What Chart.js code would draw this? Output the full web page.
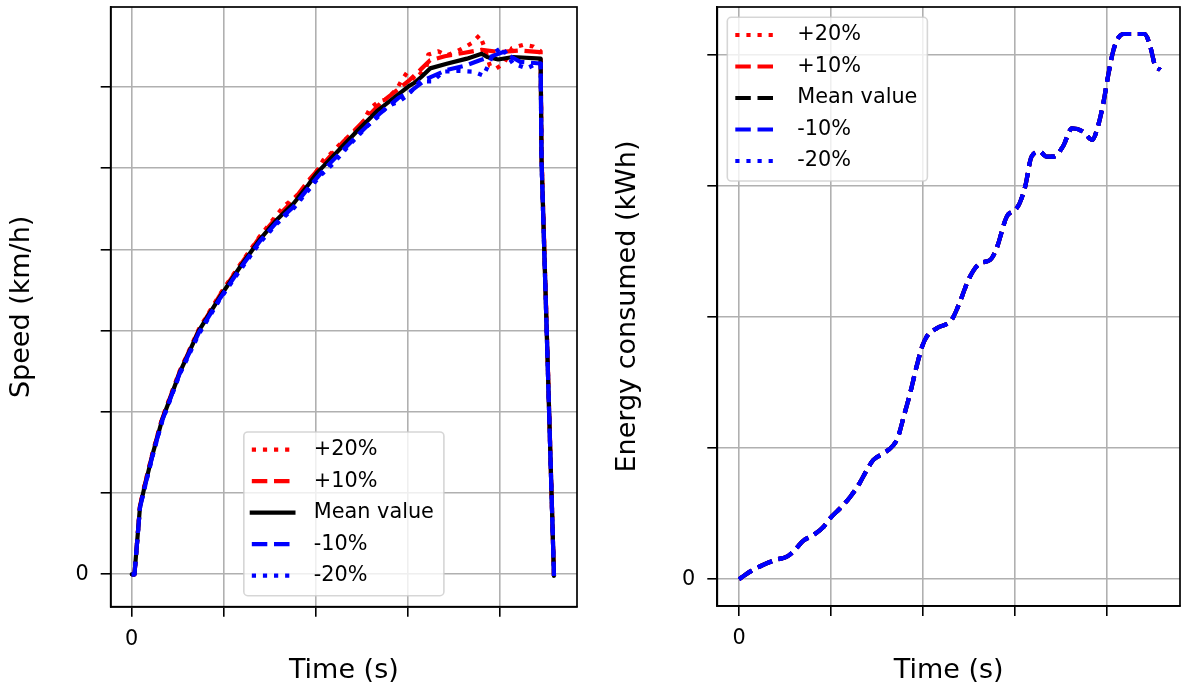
<!DOCTYPE html>
<html>
<head>
<meta charset="utf-8">
<script src="https://cdn.jsdelivr.net/npm/chart.js@4"></script>
<style>
  html, body { margin: 0; padding: 0; background: #fff; }
  #wrap { position: relative; width: 1183px; height: 689px; overflow: hidden; }
  .panel { position: absolute; top: 0; }
</style>
</head>
<body>
<div id="wrap">
  <div class="panel" style="left:0"><canvas id="speedChart" width="590" height="689"></canvas></div>
  <div class="panel" style="left:590px"><canvas id="energyChart" width="593" height="689"></canvas></div>
</div>
<script>
// ─────────────── DATA ───────────────
// time in s, speed in km/h, energy in kWh; only the 0 tick is labelled
const timeTicks = [0, 100, 200, 300, 400];
const speedTicks = [0, 10, 20, 30, 40, 50, 60];
const energyTicks = [0, 1, 2, 3, 4];
const seriesLabels = ['+20%', '+10%', 'Mean value', '-10%', '-20%'];

const tPlus20 = [0, 3, 9, 14, 23, 33, 52, 73, 96, 118, 139, 157, 166, 176, 188, 197, 208, 217, 228, 237, 248, 259, 268, 277, 288, 293, 299, 308, 316, 320, 322, 333, 342, 353, 360, 369, 378, 382, 389, 396, 404, 413, 425, 436, 444, 445, 451, 458.5];
const vPlus20 = [0, 0, 8.4, 11.0, 15.1, 19.2, 25.0, 30.2, 34.5, 38.2, 41.6, 44.2, 45.4, 46.3, 47.6, 48.9, 51.0, 51.9, 53.2, 54.0, 55.0, 57.4, 58.2, 58.5, 59.8, 60.8, 61.8, 60.9, 62.0, 62.4, 64.0, 64.4, 63.9, 64.4, 64.8, 65.4, 66.4, 65.2, 62.6, 62.3, 62.9, 64.8, 65.2, 65.0, 64.4, 51.8, 29.0, -0.2];

const tPlus10 = [0, 3, 9, 14, 23, 33, 52, 73, 96, 118, 139, 157, 176, 192, 210, 230, 250, 270, 290, 302, 315, 324, 340, 360, 380, 400, 420, 444, 445, 451, 458.5];
const vPlus10 = [0, 0, 8.4, 10.9, 15.0, 19.1, 24.9, 30.1, 34.4, 38.1, 41.5, 43.9, 46.1, 48.5, 50.8, 53.3, 55.6, 58.0, 59.8, 60.9, 62.3, 63.3, 63.8, 64.2, 64.6, 64.3, 64.5, 64.3, 51.5, 28.8, -0.2];

const tMean = [0, 3, 9, 14, 23, 33, 52, 73, 96, 118, 139, 157, 176, 192, 201, 223, 244, 266, 284, 302, 308, 315, 324, 343, 364, 380, 386, 398, 414, 444, 445, 451, 458.5];
const vMean = [0, 0, 8.3, 10.8, 14.9, 19.0, 24.8, 30.0, 34.2, 37.9, 41.2, 43.6, 45.7, 48.0, 49.4, 52.0, 54.5, 57.0, 58.6, 60.2, 60.6, 61.3, 62.3, 62.9, 63.5, 64.1, 63.7, 63.4, 63.7, 63.5, 51.0, 28.5, -0.2];

const tMinus10 = [0, 3, 9, 14, 23, 33, 52, 73, 96, 118, 139, 157, 176, 192, 210, 230, 250, 270, 290, 302, 320, 342, 364, 378, 389, 403, 422, 444, 445, 451, 458.5];
const vMinus10 = [0, 0, 8.2, 10.7, 14.8, 18.9, 24.7, 29.8, 34.0, 37.7, 41.0, 43.3, 45.3, 47.6, 50.0, 52.3, 54.6, 56.8, 58.7, 59.4, 61.0, 62.1, 62.7, 63.3, 63.7, 64.3, 63.1, 62.9, 51.0, 28.5, -0.2];

const tMinus20 = [0, 3, 9, 14, 23, 33, 52, 73, 96, 118, 139, 157, 176, 192, 204, 219, 235, 255, 270, 277, 290, 300, 313, 327, 338, 355, 371, 382, 393, 402, 414, 429, 440, 444, 445, 451, 458.5];
const vMinus20 = [0, 0, 8.2, 10.6, 14.7, 18.8, 24.6, 29.6, 33.9, 37.5, 40.8, 43.1, 45.1, 47.3, 49.0, 50.6, 52.7, 55.1, 56.6, 57.6, 58.2, 59.0, 60.7, 60.7, 61.9, 62.0, 61.9, 61.4, 64.2, 64.9, 62.9, 62.3, 62.9, 62.9, 50.5, 28.2, -0.2];

// the five energy curves coincide in the picture
const tEnergy = [0, 12, 26, 41, 52, 59, 70, 81, 92, 99, 110, 121, 131, 139, 146, 157, 168, 173, 179, 186, 193, 199, 204, 215, 231, 238, 251, 262, 273, 280, 291, 300, 305, 311, 318, 327, 334, 342, 352, 362, 374, 384, 390, 396, 401, 407, 412, 418, 441, 447, 452, 458];
const eMean = [0, 0.058, 0.109, 0.150, 0.172, 0.211, 0.294, 0.338, 0.401, 0.465, 0.542, 0.630, 0.732, 0.834, 0.910, 0.961, 1.024, 1.088, 1.240, 1.419, 1.622, 1.774, 1.851, 1.915, 1.978, 2.079, 2.308, 2.410, 2.436, 2.525, 2.766, 2.817, 2.868, 2.995, 3.224, 3.262, 3.224, 3.224, 3.300, 3.440, 3.414, 3.351, 3.452, 3.633, 3.834, 4.037, 4.127, 4.159, 4.159, 4.063, 3.923, 3.885];

// ─────────────── STYLE ───────────────
const LW = 4.2;
const DASHED = [15.5, 6.7];
const DOTTED = [4.2, 6.9];
const RED = '#ff0000', BLUE = '#0000ff', BLACK = '#000000';
const FONT = 'DejaVu Sans';

Chart.defaults.font.family = FONT;
Chart.defaults.color = '#000';

const pts = (xs, ys) => xs.map((x, i) => ({ x: x, y: ys[i] }));

const makeSet = (label, xs, ys, color, dash, i, smooth) => ({
    label: label,
    data: pts(xs, ys),
    borderColor: color,
    backgroundColor: color,
    borderWidth: LW,
    borderDash: dash,
    borderCapStyle: dash.length ? 'butt' : 'round',
    borderJoinStyle: 'round',
    pointRadius: 0,
    fill: false,
    tension: 0,
    cubicInterpolationMode: smooth ? 'monotone' : 'default',
    order: 4 - i // later series on top, like the original
});

// full box around the axes
const framePlugin = {
    id: 'frame',
    afterDatasetsDraw(chart) {
        const { ctx, chartArea: a } = chart;
        ctx.save();
        ctx.strokeStyle = '#000';
        ctx.lineWidth = 1.7;
        ctx.strokeRect(a.left, a.top, a.right - a.left, a.bottom - a.top);
        ctx.restore();
    }
};

// legend drawn inside the plot area, matplotlib style
const innerLegend = {
    id: 'innerLegend',
    afterDatasetsDraw(chart, args, opts) {
        const { ctx, chartArea: a } = chart;
        const sets = chart.data.datasets;
        const fs = 20.8;
        ctx.save();
        ctx.font = fs + 'px "' + FONT + '"';
        const textW = Math.max(...sets.map(d => ctx.measureText(d.label).width));
        const w = 8 + 62 + textW + 10;
        const rowH = 31.5;
        const h = 17.7 + rowH * (sets.length - 1) + 20;
        let x, y;
        if (opts.loc === 'lower center') {
            x = (a.left + a.right) / 2 - w / 2;
            y = a.bottom - 11 - h;
        } else {
            x = a.left + 10;
            y = a.top + 10.3;
        }
        // rounded box
        const r = 4;
        ctx.beginPath();
        ctx.moveTo(x + r, y);
        ctx.arcTo(x + w, y, x + w, y + h, r);
        ctx.arcTo(x + w, y + h, x, y + h, r);
        ctx.arcTo(x, y + h, x, y, r);
        ctx.arcTo(x, y, x + w, y, r);
        ctx.closePath();
        ctx.fillStyle = 'rgba(255,255,255,0.8)';
        ctx.fill();
        ctx.strokeStyle = 'rgba(204,204,204,0.8)';
        ctx.lineWidth = 1.6;
        ctx.stroke();

        sets.forEach((d, i) => {
            const cy = y + 17.7 + i * rowH;
            ctx.beginPath();
            ctx.setLineDash(d.borderDash || []);
            ctx.lineCap = d.borderDash.length ? 'butt' : 'square';
            ctx.strokeStyle = d.borderColor;
            ctx.lineWidth = d.borderWidth;
            ctx.moveTo(x + 8, cy);
            ctx.lineTo(x + 8 + 41.6, cy);
            ctx.stroke();
            ctx.setLineDash([]);
            ctx.fillStyle = '#000';
            ctx.textBaseline = 'middle';
            ctx.textAlign = 'left';
            ctx.fillText(d.label, x + 8 + 62, cy);
        });
        ctx.restore();
    }
};

const axisOpts = (title, ticks, min, max, isY, fitSize, titlePad) => ({
    type: 'linear',
    min: min,
    max: max,
    afterBuildTicks: s => { s.ticks = ticks.map(v => ({ value: v })); },
    afterFit: s => {
        if (isY) s.width = fitSize; else s.height = fitSize;
        // the plot box is placed by hand, no extra room for overhanging labels
        s.paddingTop = s.paddingBottom = s.paddingLeft = s.paddingRight = 0;
    },
    ticks: {
        autoSkip: false,
        maxRotation: 0,
        font: { size: 20.8 },
        padding: isY ? 12 : 10,
        callback: v => (v === 0 ? '0' : '')
    },
    grid: {
        color: '#b0b0b0',
        lineWidth: 1.6,
        tickColor: '#000',
        tickLength: 10,
        tickWidth: 1.6
    },
    border: { display: true, color: '#000', width: 1.7 },
    title: {
        display: true,
        text: title,
        font: { size: 27 },
        color: '#000',
        padding: titlePad
    }
});

const baseOptions = (xAxis, yAxis, pad, legendLoc) => ({
    responsive: false,
    animation: false,
    devicePixelRatio: 1,
    layout: { padding: pad, autoPadding: false },
    plugins: {
        legend: { display: false },
        tooltip: { enabled: false },
        innerLegend: { loc: legendLoc }
    },
    scales: { x: xAxis, y: yAxis }
});

// ─────────────── SPEED CHART ───────────────
new Chart(document.getElementById('speedChart'), {
    type: 'line',
    data: {
        datasets: [
            makeSet(seriesLabels[0], tPlus20, vPlus20, RED, DOTTED, 0),
            makeSet(seriesLabels[1], tPlus10, vPlus10, RED, DASHED, 1),
            makeSet(seriesLabels[2], tMean, vMean, BLACK, [], 2),
            makeSet(seriesLabels[3], tMinus10, vMinus10, BLUE, DASHED, 3),
            makeSet(seriesLabels[4], tMinus20, vMinus20, BLUE, DOTTED, 4)
        ]
    },
    options: baseOptions(
        axisOpts('Time (s)', timeTicks, -22.8, 483.5, false, 82.3, { top: 4, bottom: 2 }),
        axisOpts('Speed (km/h)', speedTicks, -3.99, 69.86, true, 110.7, { top: 6, bottom: 0 }),
        { top: 7, right: 13, left: 0, bottom: 0 },
        'lower center'
    ),
    plugins: [framePlugin, innerLegend]
});

// ─────────────── ENERGY CHART ───────────────
new Chart(document.getElementById('energyChart'), {
    type: 'line',
    data: {
        datasets: [
            makeSet(seriesLabels[0], tEnergy, eMean, RED, DOTTED, 0, true),
            makeSet(seriesLabels[1], tEnergy, eMean, RED, DASHED, 1, true),
            makeSet(seriesLabels[2], tEnergy, eMean, BLACK, DASHED, 2, true),
            makeSet(seriesLabels[3], tEnergy, eMean, BLUE, DASHED, 3, true),
            makeSet(seriesLabels[4], tEnergy, eMean, BLUE, DOTTED, 4, true)
        ]
    },
    options: baseOptions(
        axisOpts('Time (s)', timeTicks, -23.6, 479.3, false, 83, { top: 4, bottom: 2 }),
        axisOpts('Energy consumed (kWh)', energyTicks, -0.204, 4.365, true, 127.3, { top: 22, bottom: 0 }),
        { top: 7, right: 3, left: 0, bottom: 0 },
        'upper left'
    ),
    plugins: [framePlugin, innerLegend]
});
</script>
</body>
</html>
